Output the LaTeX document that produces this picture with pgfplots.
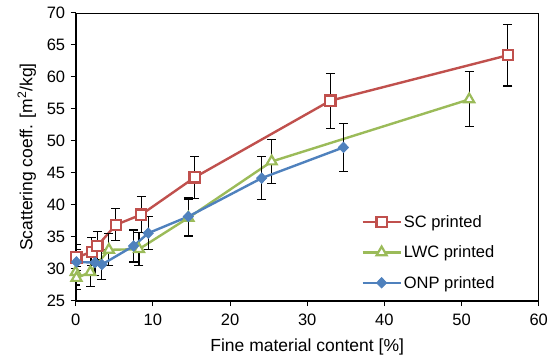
\documentclass[border=0pt]{standalone}
\usepackage{fontspec}
\setmainfont{Liberation Sans}
\usepackage{pgfplots}
\usepackage{pgfplotstable}
\pgfplotsset{compat=1.18}
\definecolor{scred}{HTML}{C0504D}
\definecolor{lwcgreen}{HTML}{9BBB59}
\definecolor{onpblue}{HTML}{4F81BD}
\pgfplotstableread{
x y e
0.1 31.8 2.0
2.1 32.7 2.2
2.8 33.6 2.2
5.2 36.9 2.5
8.5 38.5 2.8
15.4 44.3 3.3
33.0 56.3 4.3
56.0 63.4 4.8
}\sctab
\pgfplotstableread{
x y e
0.0 29.5 2.0
0.1 28.6 1.8
1.9 29.5 2.3
4.3 33.0 2.5
8.2 33.1 2.6
14.6 38.0 2.9
25.4 46.8 3.4
51.0 56.5 4.3
}\lwctab
\pgfplotstableread{
x y e
0.1 31.1 2.0
2.5 31.0 2.0
3.4 30.7 2.3
7.5 33.6 2.5
9.4 35.6 2.6
14.6 38.2 2.9
24.1 44.2 3.4
34.7 49.0 3.8
}\onptab
\begin{document}
\begin{tikzpicture}
\begin{axis}[
  at={(0,0)}, anchor=south west,
  scale only axis,
  width=463pt, height=288pt,
  xmin=0, xmax=60, ymin=25, ymax=70,
  xtick={0,10,...,60}, ytick={25,30,...,70},
  tick align=outside, xtick pos=bottom, ytick pos=left,
  major tick length=5pt,
  tick style={black, line width=1pt},
  axis line style={line width=0.8pt},
  /pgf/number format/assume math mode=true,
  tick label style={font=\fontsize{16.5}{19}\selectfont},
  xticklabel style={yshift=-4pt},
  yticklabel style={xshift=-2pt},
  label style={font=\fontsize{17.5}{20}\selectfont},
  xlabel={Fine material content [\%]},
  ylabel={Scattering coeff. [m\textsuperscript{2}/kg]},
  xlabel style={yshift=-7pt},
  ylabel style={yshift=4pt},
  legend style={draw=none, fill=none, at={(axis cs:37.0,32.6)}, anchor=west,
    font=\fontsize{16.5}{19}\selectfont, row sep=13pt, inner sep=0pt},
  legend cell align=left,
  legend image code/.code={\draw[mark repeat=2,mark phase=2] plot coordinates {(0pt,0pt) (19pt,0pt) (38pt,0pt)};},
  error bars/error bar style={black, line width=1.1pt},
  error bars/error mark options={rotate=90, mark size=4.5pt, black, line width=1.1pt},
]
\addplot+[scred, line width=2.4pt, mark=square*, mark size=5.1pt,
  mark options={fill=white, draw=scred, line width=2.2pt, solid},
  error bars/.cd, y dir=both, y explicit]
  table[x=x, y=y, y error=e] {\sctab};
\addlegendentry{SC printed}
\addplot+[lwcgreen, line width=2.4pt, mark=triangle*, mark size=5.8pt,
  mark options={fill=white, draw=lwcgreen, line width=2.2pt, solid},
  error bars/.cd, y dir=both, y explicit]
  table[x=x, y=y, y error=e] {\lwctab};
\addlegendentry{LWC printed}
\addplot+[onpblue, line width=2.4pt, mark=diamond*, mark size=5.2pt,
  mark options={fill=onpblue, draw=onpblue, line width=0.8pt, solid, xscale=1.3},
  error bars/.cd, y dir=both, y explicit]
  table[x=x, y=y, y error=e] {\onptab};
\addlegendentry{ONP printed}
\draw[line width=1.8pt, black] (rel axis cs:0,1) -- (rel axis cs:0,0) -- (rel axis cs:1,0);
\end{axis}
\pgfresetboundingbox
\useasboundingbox (-75.7pt,-61pt) rectangle (474.3pt,301pt);
\end{tikzpicture}
\end{document}
